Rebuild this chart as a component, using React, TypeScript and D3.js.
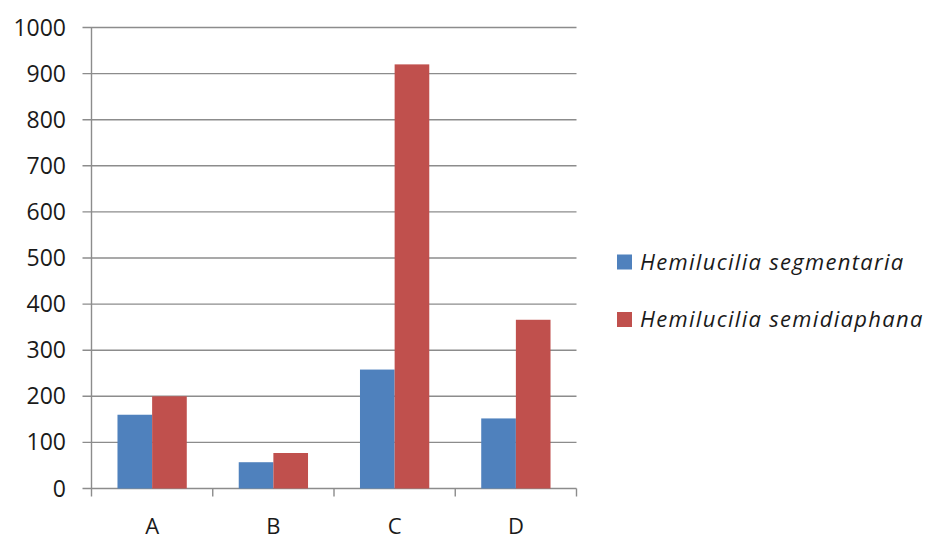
import React from "react";
import * as d3 from "d3";

const categories = ["A", "B", "C", "D"];
const seriesNames = ["Hemilucilia segmentaria", "Hemilucilia semidiaphana"];
const segmentaria = [160, 57, 258, 152];
const semidiaphana = [200, 77, 920, 366];
const yTicks = [0, 100, 200, 300, 400, 500, 600, 700, 800, 900, 1000];

const colors = ["#4F81BD", "#C0504D"];
const W = 925;
const H = 541;
const plot = { left: 91.5, right: 576.5, top: 27.5, bottom: 488.5 };
const FONT = "'Open Sans', sans-serif";

export default function App() {
  const x = d3.scaleBand<string>().domain(categories).range([plot.left, plot.right]).paddingInner(0).paddingOuter(0);
  const y = d3.scaleLinear().domain([0, 1000]).range([plot.bottom, plot.top]);
  // Excel-style clustered columns with a 150% gap width
  const bw = x.bandwidth() / 3.5;
  const series = [segmentaria, semidiaphana];
  const grid = "#8c8c8c";

  return (
    <svg width={W} height={H} style={{ position: "absolute", left: 0, top: 0, background: "#fff" }}>
      {yTicks.map((t) => (
        <g key={t}>
          <line x1={plot.left - 9} x2={plot.right} y1={y(t)} y2={y(t)} stroke={grid} strokeWidth={1.4} />
          <text x={66} y={y(t)} dy="0.35em" textAnchor="end" fontFamily={FONT} fontSize={23} fill="#1a1a1a">
            {t}
          </text>
        </g>
      ))}
      <line x1={plot.left} x2={plot.left} y1={plot.top} y2={plot.bottom + 8} stroke={grid} strokeWidth={1.4} />
      {categories.map((c) => (
        <line key={"tk" + c} x1={x(c)! + x.bandwidth()} x2={x(c)! + x.bandwidth()} y1={plot.bottom} y2={plot.bottom + 8} stroke={grid} strokeWidth={1.4} />
      ))}
      {categories.map((c, i) => {
        const x0 = x(c)! + (x.bandwidth() - 2 * bw) / 2;
        return (
          <g key={"bars" + c}>
            {series.map((s, k) => (
              <rect key={k} x={x0 + k * bw} y={y(s[i])} width={bw} height={y(0) - y(s[i])} fill={colors[k]} />
            ))}
          </g>
        );
      })}
      {categories.map((c) => (
        <text key={"lb" + c} x={x(c)! + x.bandwidth() / 2} y={534} textAnchor="middle" fontFamily={FONT} fontSize={22} fill="#1a1a1a">
          {c}
        </text>
      ))}
      {seriesNames.map((n, k) => (
        <g key={n} transform={`translate(617, ${262 + k * 57.5})`}>
          <rect x={0} y={-7.5} width={15} height={15} fill={colors[k]} />
          <text x={23} y={0} dy="0.36em" fontFamily={FONT} fontStyle="italic" fontSize={22} letterSpacing={1.3} fill="#1a1a1a">
            {n}
          </text>
        </g>
      ))}
    </svg>
  );
}
